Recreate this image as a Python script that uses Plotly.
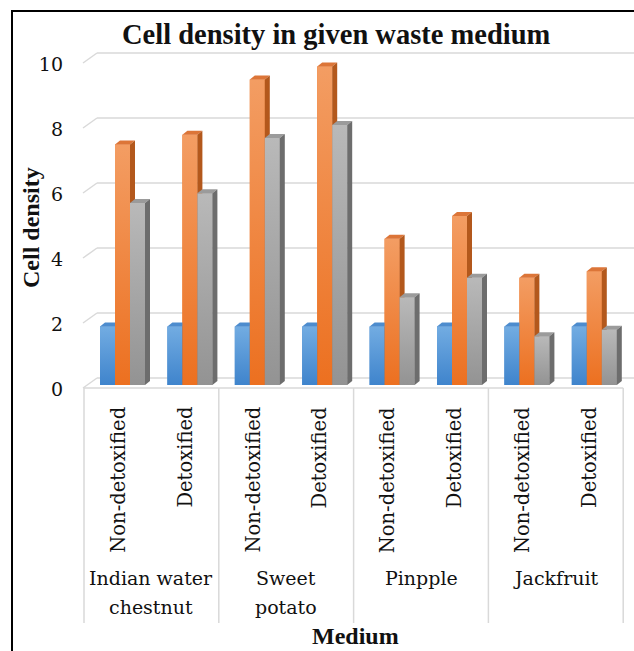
import plotly.graph_objects as go

# ---- data -------------------------------------------------------------
media = ["Indian water<br>chestnut", "Sweet<br>potato", "Pinpple", "Jackfruit"]
treatments = ["Non-detoxified", "Detoxified"]
series_names = ["Series1", "Series2", "Series3"]
series1 = [1.8, 1.8, 1.8, 1.8, 1.8, 1.8, 1.8, 1.8]
series2 = [7.4, 7.7, 9.4, 9.8, 4.5, 5.2, 3.3, 3.5]
series3 = [5.6, 5.9, 7.6, 8.0, 2.7, 3.3, 1.5, 1.7]
y_ticks = [0, 2, 4, 6, 8, 10]

# ---- styling ------------------------------------------------------------
FONT_BOLD = '"Times New Roman", "Liberation Serif", serif'
FONT = '"DejaVu Serif", serif'
TXT = "#111111"
GRID = "#d9d9d9"
# front gradient (bottom, top), top face, side face
palette = [
    dict(bottom="#3f84cc", top="#72ace2", cap="#4d8cce", side="#36689e"),
    dict(bottom="#ec7020", top="#f39d63", cap="#dc7538", side="#b3581c"),
    dict(bottom="#939393", top="#b9b9b9", cap="#9b9b9b", side="#6d6d6d"),
]

W, H = 634, 651
L, R, T, B = 70, 634, 45, 392          # plot area in pixels
X0, SX = 84, 67.4                      # pixel of x=0, pixels per category slot
Y0, SY = 385, 32.5                     # pixel of y=0, pixels per unit
DEPTH_X, DEPTH_Y = 5, 4                # 3-D bar depth in pixels
BAR_W = 15                             # bar front width in pixels
BAR_LEFT = [16, 31, 46]                # bar left edge inside a slot, pixels
LINE_GAP = 29                          # line spacing of group labels, pixels


def xd(px):
    return (px - X0) / SX


def yd(py):
    return (Y0 - py) / SY


def xp(px):
    return (px - L) / (R - L)


def yp(py):
    return (B - py) / (B - T)


fig = go.Figure()
series = [series1, series2, series3]
n_cat = len(media) * len(treatments)

# bars (front faces)
for s, vals in enumerate(series):
    xs = [i + (BAR_LEFT[s] + BAR_W / 2) / SX for i in range(n_cat)]
    fig.add_trace(go.Bar(
        x=xs, y=vals, width=BAR_W / SX, name=series_names[s],
        marker=dict(color=palette[s]["bottom"], line=dict(width=0)),
        showlegend=False,
    ))

# 3-D shading: gradient front, top and side faces, drawn left to right
ddx, ddy = DEPTH_X / SX, DEPTH_Y / SY
for i in range(n_cat):
    for s, vals in enumerate(series):
        v = vals[i]
        c = palette[s]
        l = i + BAR_LEFT[s] / SX
        r = l + BAR_W / SX
        faces = [
            ([l, r, r, l, l], [0, 0, v, v, 0], None),
            ([l, r, r + ddx, l + ddx, l], [v, v, v + ddy, v + ddy, v], c["cap"]),
            ([r, r, r + ddx, r + ddx, r], [0, v, v + ddy, ddy, 0], c["side"]),
        ]
        for k, (fx, fy, col) in enumerate(faces):
            kw = dict(x=fx, y=fy, mode="lines", fill="toself",
                      line=dict(width=0), hoverinfo="skip",
                      showlegend=False, cliponaxis=False)
            if col is None:
                kw["fillgradient"] = dict(
                    type="vertical", start=0, stop=v,
                    colorscale=[[0, c["bottom"]], [1, c["top"]]])
            else:
                kw["fillcolor"] = col
            fig.add_trace(go.Scatter(**kw))

shapes = []
# back-wall gridlines with the left side wall
for v in y_ticks:
    yf = Y0 + 3 - SY * v
    yb = yf - 10
    shapes.append(dict(type="line", xref="x", yref="y", layer="below",
                       x0=xd(83), y0=yd(yf), x1=xd(97), y1=yd(yb),
                       line=dict(color=GRID, width=1.5)))
    shapes.append(dict(type="line", xref="x", yref="y", layer="below",
                       x0=xd(97), y0=yd(yb), x1=xd(634), y1=yd(yb),
                       line=dict(color=GRID, width=1.5)))
# floor front edge
shapes.append(dict(type="line", xref="x", yref="y", layer="below",
                   x0=0, y0=yd(Y0 + 3), x1=n_cat, y1=yd(Y0 + 3),
                   line=dict(color=GRID, width=1.5)))
# category group dividers
for g in range(len(media) + 1):
    px = X0 + SX * g * len(treatments)
    shapes.append(dict(type="line", xref="paper", yref="paper",
                       x0=xp(px), y0=yp(388), x1=xp(px), y1=yp(623),
                       line=dict(color=GRID, width=1.5)))
# frame on the left and top
shapes.append(dict(type="line", xref="paper", yref="paper",
                   x0=xp(12), y0=yp(10), x1=xp(12), y1=yp(651),
                   line=dict(color="black", width=2)))
shapes.append(dict(type="line", xref="paper", yref="paper",
                   x0=xp(11), y0=yp(11), x1=xp(634), y1=yp(11),
                   line=dict(color="black", width=2)))

annotations = []
# inner category labels
for i in range(n_cat):
    annotations.append(dict(
        text=treatments[i % 2], xref="paper", yref="paper",
        x=xp(X0 + SX * (i + 0.5)), y=yp(405), xanchor="center", yanchor="top",
        textangle=-90, showarrow=False, font=dict(family=FONT, size=19.5, color=TXT)))
# group labels, one annotation per line for wider line spacing
for g, m in enumerate(media):
    for j, line in enumerate(m.split("<br>")):
        annotations.append(dict(
            text=line, xref="paper", yref="paper",
            x=xp(X0 + SX * (2 * g + 1)), y=yp(565 + j * LINE_GAP),
            xanchor="center", yanchor="top", showarrow=False,
            font=dict(family=FONT, size=19, color=TXT)))
# titles
annotations.append(dict(
    text="Cell density in given waste medium", xref="paper", yref="paper",
    x=xp(336), y=yp(35), xanchor="center", yanchor="middle", showarrow=False,
    font=dict(family=FONT_BOLD, size=28.5, color=TXT, weight="bold")))
annotations.append(dict(
    text="Medium", xref="paper", yref="paper",
    x=xp(355), y=yp(636), xanchor="center", yanchor="middle", showarrow=False,
    font=dict(family=FONT_BOLD, size=24, color=TXT, weight="bold")))
annotations.append(dict(
    text="Cell density", xref="paper", yref="paper",
    x=xp(31), y=yp(228), xanchor="center", yanchor="middle", textangle=-90,
    showarrow=False, font=dict(family=FONT_BOLD, size=24, color=TXT, weight="bold")))

fig.update_layout(
    width=W, height=H,
    margin=dict(l=L, r=W - R, t=T, b=H - B, pad=0),
    paper_bgcolor="white", plot_bgcolor="white",
    barmode="overlay",
    showlegend=False,
    xaxis=dict(range=[xd(L), xd(R)], showgrid=False, zeroline=False,
               showticklabels=False, ticks="", showline=False, fixedrange=True),
    yaxis=dict(range=[yd(B), yd(T)], showgrid=False, zeroline=False,
               tickvals=[v - 4 / SY for v in y_ticks],
               ticktext=[str(v) for v in y_ticks], ticks="",
               ticklabelstandoff=6,
               tickfont=dict(family=FONT, size=19, color=TXT),
               showline=False, fixedrange=True),
    shapes=shapes,
    annotations=annotations,
)

fig.write_html("out.html")
